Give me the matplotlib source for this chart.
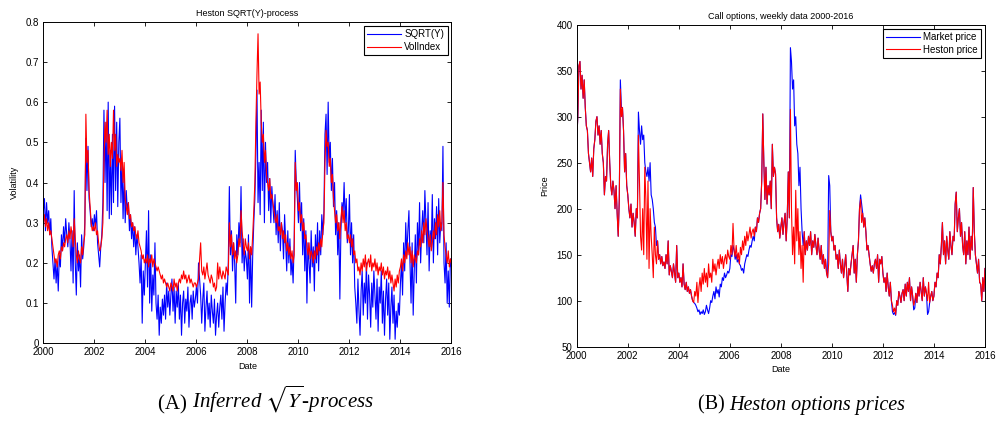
import numpy as np
import matplotlib
matplotlib.use("Agg")
import matplotlib.pyplot as plt

plt.rcParams['font.family'] = ['Liberation Sans', 'DejaVu Sans']
plt.rcParams['mathtext.fontset'] = 'stix'

# semi-monthly readings 2000-2016 (24 per year, last value = start of 2016)
sqrt_y = [
    0.33, 0.36, 0.28, 0.35, 0.30, 0.33, 0.27, 0.31, 0.24, 0.20, 0.16, 0.21, 0.15, 0.20, 0.13, 0.22, 0.19, 0.27, 0.23, 0.29, 0.25, 0.31, 0.27, 0.24,
    0.30, 0.26, 0.18, 0.28, 0.15, 0.38, 0.20, 0.12, 0.25, 0.18, 0.22, 0.14, 0.27, 0.21, 0.24, 0.30, 0.51, 0.38, 0.49, 0.36, 0.33, 0.29, 0.31, 0.28,
    0.32, 0.29, 0.33, 0.25, 0.22, 0.19, 0.24, 0.27, 0.35, 0.58, 0.40, 0.55, 0.33, 0.60, 0.31, 0.48, 0.32, 0.52, 0.35, 0.59, 0.38, 0.55, 0.34, 0.50,
    0.56, 0.35, 0.45, 0.31, 0.42, 0.30, 0.38, 0.33, 0.35, 0.28, 0.32, 0.26, 0.30, 0.24, 0.29, 0.22, 0.27, 0.24, 0.20, 0.15, 0.22, 0.05, 0.18, 0.12,
    0.20, 0.28, 0.14, 0.33, 0.10, 0.22, 0.08, 0.17, 0.12, 0.25, 0.10, 0.06, 0.12, 0.02, 0.09, 0.05, 0.11, 0.07, 0.12, 0.06, 0.15, 0.09, 0.13, 0.07,
    0.12, 0.16, 0.08, 0.14, 0.05, 0.13, 0.09, 0.15, 0.06, 0.12, 0.02, 0.10, 0.13, 0.05, 0.11, 0.08, 0.14, 0.04, 0.10, 0.12, 0.06, 0.13, 0.09, 0.11,
    0.14, 0.10, 0.20, 0.16, 0.12, 0.05, 0.11, 0.15, 0.03, 0.09, 0.13, 0.06, 0.10, 0.04, 0.12, 0.08, 0.05, 0.11, 0.02, 0.07, 0.10, 0.04, 0.09, 0.12,
    0.06, 0.14, 0.03, 0.10, 0.15, 0.12, 0.20, 0.39, 0.22, 0.28, 0.18, 0.25, 0.20, 0.10, 0.27, 0.22, 0.30, 0.25, 0.39, 0.20, 0.26, 0.18, 0.23, 0.21,
    0.16, 0.27, 0.10, 0.24, 0.09, 0.22, 0.30, 0.36, 0.47, 0.63, 0.35, 0.45, 0.32, 0.58, 0.38, 0.55, 0.30, 0.50, 0.40, 0.45, 0.33, 0.41, 0.30, 0.39,
    0.34, 0.30, 0.37, 0.27, 0.33, 0.25, 0.35, 0.23, 0.30, 0.28, 0.21, 0.32, 0.25, 0.18, 0.28, 0.20, 0.26, 0.17, 0.21, 0.15, 0.25, 0.48, 0.40, 0.36,
    0.30, 0.40, 0.28, 0.35, 0.22, 0.31, 0.18, 0.28, 0.10, 0.25, 0.20, 0.15, 0.28, 0.19, 0.24, 0.13, 0.27, 0.20, 0.30, 0.18, 0.28, 0.22, 0.32, 0.27,
    0.33, 0.52, 0.57, 0.42, 0.60, 0.45, 0.50, 0.38, 0.46, 0.34, 0.40, 0.27, 0.33, 0.22, 0.30, 0.11, 0.28, 0.35, 0.32, 0.40, 0.30, 0.36, 0.25, 0.28,
    0.37, 0.22, 0.30, 0.20, 0.27, 0.14, 0.10, 0.05, 0.16, 0.08, 0.02, 0.13, 0.18, 0.07, 0.15, 0.10, 0.20, 0.06, 0.17, 0.12, 0.04, 0.15, 0.09, 0.18,
    0.12, 0.06, 0.16, 0.03, 0.14, 0.10, 0.18, 0.05, 0.13, 0.02, 0.11, 0.16, 0.07, 0.15, 0.01, 0.09, 0.14, 0.05, 0.12, 0.01, 0.08, 0.04, 0.10, 0.07,
    0.15, 0.20, 0.12, 0.25, 0.18, 0.30, 0.22, 0.28, 0.33, 0.20, 0.10, 0.25, 0.07, 0.18, 0.27, 0.15, 0.30, 0.22, 0.35, 0.20, 0.28, 0.33, 0.25, 0.38,
    0.30, 0.22, 0.35, 0.18, 0.28, 0.24, 0.37, 0.20, 0.31, 0.26, 0.34, 0.22, 0.36, 0.25, 0.30, 0.28, 0.49, 0.20, 0.15, 0.25, 0.10, 0.18, 0.09, 0.21,
    0.19,
]

vol_index = [
    0.30, 0.32, 0.29, 0.31, 0.28, 0.30, 0.27, 0.28, 0.26, 0.24, 0.22, 0.20, 0.21, 0.19, 0.22, 0.23, 0.21, 0.24, 0.23, 0.25, 0.24, 0.26, 0.27, 0.25,
    0.28, 0.26, 0.29, 0.27, 0.24, 0.31, 0.26, 0.22, 0.20, 0.23, 0.21, 0.20, 0.24, 0.22, 0.25, 0.27, 0.57, 0.45, 0.48, 0.38, 0.34, 0.30, 0.28, 0.29,
    0.28, 0.30, 0.27, 0.28, 0.25, 0.23, 0.24, 0.26, 0.30, 0.45, 0.55, 0.50, 0.58, 0.47, 0.52, 0.44, 0.50, 0.46, 0.58, 0.48, 0.52, 0.44, 0.47, 0.45,
    0.46, 0.43, 0.48, 0.40, 0.45, 0.36, 0.34, 0.32, 0.35, 0.31, 0.32, 0.29, 0.30, 0.28, 0.29, 0.27, 0.26, 0.28, 0.25, 0.24, 0.23, 0.21, 0.22, 0.20,
    0.21, 0.20, 0.22, 0.19, 0.21, 0.20, 0.22, 0.19, 0.21, 0.20, 0.19, 0.18, 0.19, 0.18, 0.17, 0.16, 0.17, 0.15, 0.16, 0.15, 0.14, 0.15, 0.14, 0.13,
    0.15, 0.14, 0.13, 0.16, 0.14, 0.15, 0.13, 0.15, 0.16, 0.15, 0.17, 0.16, 0.18, 0.16, 0.17, 0.15, 0.16, 0.17, 0.15, 0.16, 0.15, 0.14, 0.15, 0.15,
    0.14, 0.15, 0.16, 0.21, 0.25, 0.18, 0.17, 0.19, 0.16, 0.18, 0.20, 0.17, 0.16, 0.15, 0.17, 0.16, 0.14, 0.15, 0.13, 0.14, 0.20, 0.16, 0.19, 0.17,
    0.16, 0.18, 0.17, 0.16, 0.19, 0.18, 0.17, 0.30, 0.24, 0.27, 0.22, 0.25, 0.21, 0.23, 0.20, 0.22, 0.26, 0.24, 0.33, 0.28, 0.25, 0.22, 0.26, 0.24,
    0.23, 0.25, 0.21, 0.24, 0.22, 0.27, 0.33, 0.40, 0.55, 0.67, 0.77, 0.62, 0.65, 0.55, 0.50, 0.52, 0.45, 0.48, 0.42, 0.40, 0.38, 0.41, 0.36, 0.37,
    0.35, 0.33, 0.31, 0.30, 0.32, 0.28, 0.29, 0.27, 0.30, 0.26, 0.28, 0.25, 0.27, 0.23, 0.25, 0.22, 0.24, 0.21, 0.23, 0.20, 0.22, 0.45, 0.38, 0.40,
    0.33, 0.35, 0.30, 0.32, 0.28, 0.30, 0.26, 0.27, 0.24, 0.22, 0.25, 0.21, 0.23, 0.22, 0.20, 0.23, 0.21, 0.24, 0.22, 0.25, 0.23, 0.26, 0.24, 0.28,
    0.30, 0.45, 0.53, 0.49, 0.50, 0.44, 0.46, 0.40, 0.42, 0.36, 0.33, 0.30, 0.32, 0.28, 0.30, 0.26, 0.31, 0.34, 0.30, 0.33, 0.28, 0.30, 0.26, 0.27,
    0.25, 0.27, 0.24, 0.26, 0.22, 0.23, 0.20, 0.21, 0.18, 0.19, 0.17, 0.20, 0.18, 0.21, 0.19, 0.22, 0.18, 0.20, 0.21, 0.19, 0.22, 0.18, 0.20, 0.19,
    0.21, 0.18, 0.20, 0.17, 0.19, 0.18, 0.20, 0.17, 0.19, 0.16, 0.18, 0.17, 0.19, 0.16, 0.18, 0.15, 0.17, 0.15, 0.13, 0.16, 0.14, 0.17, 0.15, 0.18,
    0.19, 0.21, 0.18, 0.22, 0.20, 0.23, 0.21, 0.25, 0.22, 0.24, 0.20, 0.23, 0.19, 0.22, 0.21, 0.20, 0.23, 0.22, 0.26, 0.24, 0.28, 0.25, 0.30, 0.27,
    0.31, 0.28, 0.26, 0.24, 0.27, 0.23, 0.25, 0.28, 0.26, 0.30, 0.27, 0.32, 0.29, 0.33, 0.28, 0.30, 0.40, 0.27, 0.24, 0.22, 0.20, 0.23, 0.19, 0.21,
    0.20,
]

market_price = [
    275, 300, 355, 360, 330, 345, 320, 340, 310, 290, 285, 260, 250, 240, 255, 235, 265, 275, 295, 300, 280, 290, 270, 285,
    260, 250, 215, 235, 230, 270, 285, 250, 225, 215, 230, 220, 200, 225, 195, 170, 210, 340, 310, 310, 285, 240, 260, 225,
    215, 200, 190, 205, 180, 195, 185, 170, 200, 190, 305, 285, 270, 290, 275, 280, 250, 240, 235, 245, 230, 250, 215, 210,
    200, 185, 180, 160, 165, 145, 150, 140, 148, 138, 142, 135, 150, 140, 165, 128, 138, 132, 125, 140, 130, 120, 160, 125,
    130, 120, 125, 115, 140, 118, 112, 120, 110, 115, 108, 112, 105, 100, 98, 97, 95, 92, 88, 90, 85, 88, 86, 90,
    85, 88, 95, 90, 86, 92, 100, 98, 105, 110, 102, 115, 108, 112, 104, 118, 115, 125, 122, 130, 125, 128, 132, 130,
    135, 150, 148, 160, 155, 145, 150, 142, 145, 140, 138, 133, 135, 130, 140, 145, 150, 148, 155, 160, 158, 165, 170, 165,
    180, 175, 190, 185, 195, 200, 230, 303, 250, 210, 245, 205, 225, 215, 230, 200, 270, 235, 245, 238, 190, 175, 183, 168,
    180, 190, 172, 185, 195, 165, 190, 240, 190, 375, 360, 330, 340, 290, 300, 270, 260, 225, 245, 200, 175, 160, 175, 150,
    165, 155, 170, 160, 175, 150, 165, 158, 172, 160, 150, 168, 155, 145, 160, 140, 150, 135, 145, 130, 125, 236, 225, 175,
    165, 170, 155, 160, 145, 150, 135, 155, 140, 130, 145, 125, 138, 150, 130, 110, 135, 128, 140, 150, 160, 130, 145, 120,
    150, 165, 200, 215, 205, 195, 180, 190, 175, 155, 160, 150, 140, 132, 138, 130, 140, 145, 135, 150, 120, 145, 140, 148,
    130, 120, 125, 110, 130, 115, 105, 120, 100, 88, 85, 87, 84, 100, 95, 110, 105, 98, 108, 112, 100, 118, 105, 120,
    110, 125, 100, 115, 105, 90, 92, 108, 98, 115, 105, 120, 110, 100, 125, 105, 115, 108, 85, 88, 98, 105, 110, 100,
    105, 120, 115, 130, 125, 150, 140, 160, 185, 150, 165, 140, 170, 155, 145, 175, 160, 150, 170, 165, 205, 218, 175, 190,
    200, 170, 185, 160, 150, 175, 140, 165, 150, 180, 145, 170, 155, 223, 175, 150, 140, 130, 145, 120, 118, 100, 125, 110,
    135,
]

heston_price = [
    275, 300, 355, 360, 330, 345, 320, 340, 310, 290, 285, 260, 250, 240, 255, 235, 265, 275, 295, 300, 280, 290, 270, 285,
    260, 250, 215, 235, 230, 270, 285, 250, 225, 215, 230, 220, 200, 225, 195, 170, 210, 330, 300, 310, 285, 240, 260, 225,
    215, 200, 190, 205, 180, 195, 185, 170, 200, 190, 280, 230, 170, 155, 200, 150, 245, 210, 145, 230, 135, 200, 170, 150,
    125, 180, 150, 140, 165, 145, 150, 140, 148, 138, 142, 135, 150, 140, 165, 128, 138, 132, 125, 140, 130, 120, 160, 125,
    130, 120, 125, 115, 140, 118, 112, 120, 110, 115, 108, 112, 105, 100, 98, 110, 105, 120, 98, 115, 125, 110, 130, 118,
    135, 120, 130, 115, 140, 125, 130, 120, 145, 132, 140, 128, 138, 145, 135, 150, 140, 148, 135, 145, 150, 140, 155, 148,
    145, 160, 150, 184, 155, 148, 160, 145, 152, 140, 158, 150, 165, 155, 170, 160, 175, 165, 172, 180, 168, 175, 178, 170,
    180, 175, 190, 185, 195, 200, 230, 303, 250, 210, 245, 205, 225, 215, 230, 200, 270, 235, 245, 238, 190, 175, 183, 168,
    180, 190, 172, 185, 195, 165, 190, 240, 190, 308, 200, 150, 180, 140, 220, 165, 200, 150, 175, 135, 160, 120, 175, 150,
    165, 155, 170, 160, 175, 150, 165, 158, 172, 160, 150, 168, 155, 145, 160, 140, 150, 135, 145, 130, 125, 140, 198, 175,
    165, 170, 155, 160, 145, 150, 135, 155, 140, 130, 145, 125, 138, 150, 130, 110, 135, 128, 140, 150, 160, 130, 145, 120,
    150, 165, 200, 210, 185, 195, 180, 190, 175, 155, 160, 150, 140, 132, 138, 130, 140, 145, 135, 150, 120, 145, 140, 148,
    130, 120, 125, 110, 130, 115, 105, 120, 100, 95, 88, 92, 85, 100, 95, 110, 105, 98, 108, 112, 100, 118, 105, 120,
    110, 125, 100, 115, 105, 95, 100, 108, 98, 115, 105, 120, 110, 100, 125, 105, 115, 108, 100, 120, 98, 105, 110, 100,
    105, 120, 115, 130, 125, 150, 140, 160, 185, 150, 165, 140, 170, 155, 145, 175, 160, 150, 170, 165, 205, 218, 175, 190,
    200, 170, 185, 160, 150, 175, 140, 165, 150, 180, 145, 170, 155, 223, 175, 150, 140, 130, 145, 120, 118, 100, 125, 110,
    135,
]

year_ticks = [2000, 2002, 2004, 2006, 2008, 2010, 2012, 2014, 2016]
vol_ticks = [0, 0.1, 0.2, 0.3, 0.4, 0.5, 0.6, 0.7, 0.8]
vol_tick_labels = ['0', '0.1', '0.2', '0.3', '0.4', '0.5', '0.6', '0.7', '0.8']
price_ticks = [50, 100, 150, 200, 250, 300, 350, 400]

dates = 2000 + np.arange(len(vol_index)) / 24.0


def matlab_style(ax):
    ax.tick_params(direction='in', top=True, right=True, length=3, width=0.6,
                   labelsize=7)
    ax.tick_params(axis='x', pad=3)
    ax.tick_params(axis='y', pad=3)
    for s in ax.spines.values():
        s.set_linewidth(0.7)
    ax.set_xticks(year_ticks)
    ax.set_xlim(2000, 2016)


fig = plt.figure(figsize=(9.97, 4.38), dpi=100)

# (A) volatility
ax1 = fig.add_axes([0.0435, 0.2162, 0.4093, 0.7342])
ax1.plot(dates, sqrt_y, color='blue', lw=0.8, label='SQRT(Y)')
ax1.plot(dates, vol_index, color='red', lw=0.8, label='VolIndex')
matlab_style(ax1)
ax1.set_ylim(0, 0.8)
ax1.set_yticks(vol_ticks)
ax1.set_yticklabels(vol_tick_labels)
ax1.set_title('Heston SQRT(Y)-process', fontsize=6.5, pad=4)
ax1.set_xlabel('Date', fontsize=6.5, labelpad=3)
ax1.set_ylabel('Volatility', fontsize=6.5, labelpad=5)
leg1 = ax1.legend(loc='upper right', fontsize=7, fancybox=False, framealpha=1,
                  edgecolor='black', handlelength=3.5, borderaxespad=0.4,
                  labelspacing=0.3, borderpad=0.35, handletextpad=0.3)
leg1.get_frame().set_linewidth(0.8)

# (B) option prices
ax2 = fig.add_axes([0.5785, 0.2085, 0.4094, 0.7352])
ax2.plot(dates, market_price, color='blue', lw=0.8, label='Market price')
ax2.plot(dates, heston_price, color='red', lw=0.8, label='Heston price')
matlab_style(ax2)
ax2.set_ylim(50, 400)
ax2.set_yticks(price_ticks)
ax2.set_title('Call options, weekly data 2000-2016', fontsize=6.5, pad=4)
ax2.set_xlabel('Date', fontsize=6.5, labelpad=3)
ax2.set_ylabel('Price', fontsize=6.5, labelpad=5)
leg2 = ax2.legend(loc='upper right', fontsize=7, fancybox=False, framealpha=1,
                  edgecolor='black', handlelength=3.5, borderaxespad=0.4,
                  labelspacing=0.3, borderpad=0.35, handletextpad=0.3)
leg2.get_frame().set_linewidth(0.8)

# captions under the panels
cap_a = fig.text(0.158, 0.075, '(A) ', fontsize=15, family='Liberation Serif', va='center')
ax1.annotate(r'Inferred $\sqrt{Y}$-process', xy=(1, 0), xycoords=cap_a, va='bottom',
             fontsize=15, family='Liberation Serif', style='italic',
             annotation_clip=False)
cap_b = fig.text(0.700, 0.075, '(B) ', fontsize=14.5, family='Liberation Serif', va='center')
ax2.annotate('Heston options prices', xy=(1, 0), xycoords=cap_b, va='bottom',
             fontsize=14.5, family='Liberation Serif', style='italic',
             annotation_clip=False)

fig.savefig('out.png', dpi=100)
